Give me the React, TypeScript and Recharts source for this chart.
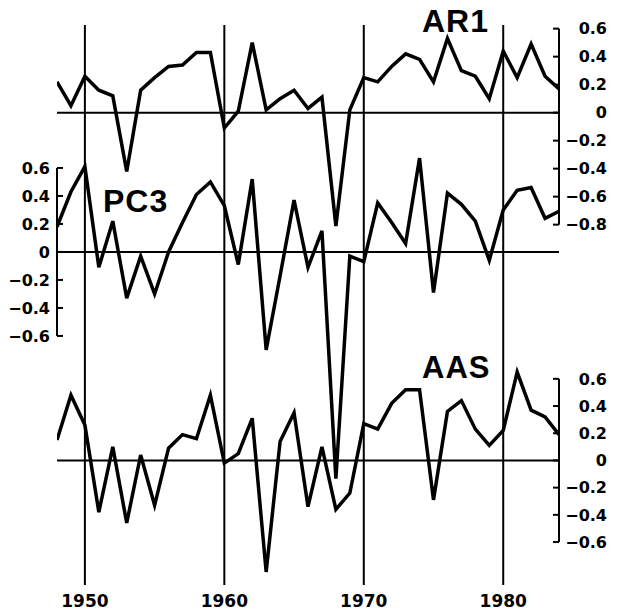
import React from 'react';
import { LineChart, Line, XAxis, YAxis, ReferenceLine } from 'recharts';

const years = [
  1948, 1949, 1950, 1951, 1952, 1953, 1954, 1955, 1956, 1957, 1958, 1959,
  1960, 1961, 1962, 1963, 1964, 1965, 1966, 1967, 1968, 1969, 1970, 1971,
  1972, 1973, 1974, 1975, 1976, 1977, 1978, 1979, 1980, 1981, 1982, 1983, 1984,
];

const ar1 = [
  0.22, 0.05, 0.26, 0.16, 0.12, -0.42, 0.16, 0.25, 0.33, 0.34, 0.43, 0.43,
  -0.11, 0.01, 0.5, 0.02, 0.1, 0.16, 0.03, 0.11, -0.81, 0.02, 0.25, 0.22,
  0.33, 0.42, 0.38, 0.22, 0.53, 0.3, 0.26, 0.1, 0.44, 0.25, 0.49, 0.26, 0.17,
];

const pc3 = [
  0.18, 0.43, 0.61, -0.11, 0.22, -0.33, -0.03, -0.3, 0.0, 0.21, 0.41, 0.5,
  0.33, -0.09, 0.52, -0.7, -0.17, 0.37, -0.11, 0.15, -1.62, -0.03, -0.07, 0.35,
  0.21, 0.06, 0.67, -0.29, 0.42, 0.34, 0.22, -0.06, 0.3, 0.44, 0.46, 0.24, 0.29,
];

const aas = [
  0.15, 0.48, 0.26, -0.38, 0.1, -0.46, 0.04, -0.33, 0.09, 0.19, 0.16, 0.48,
  -0.02, 0.05, 0.31, -0.82, 0.14, 0.35, -0.34, 0.1, -0.36, -0.24, 0.27, 0.23,
  0.42, 0.52, 0.52, -0.29, 0.36, 0.44, 0.23, 0.11, 0.22, 0.65, 0.37, 0.32, 0.19,
];

const yearTicks = [1950, 1960, 1970, 1980];
const ar1Ticks = [0.6, 0.4, 0.2, 0, -0.2, -0.4, -0.6, -0.8];
const pc3Ticks = [0.6, 0.4, 0.2, 0, -0.2, -0.4, -0.6];
const aasTicks = [0.6, 0.4, 0.2, 0, -0.2, -0.4, -0.6];

const data = years.map((year, i) => ({ year, ar1: ar1[i], pc3: pc3[i], aas: aas[i] }));

const NUM_FONT = '"DejaVu Sans", "Liberation Sans", sans-serif';
const TITLE_FONT = '"Liberation Sans", Arial, sans-serif';
const INK = '#000';

const fmt = (v: number) =>
  v === 0 ? '0' : (v < 0 ? '\u2212' : '') + Math.abs(v).toFixed(1);

function RightTick(props: any) {
  const { x, y, payload } = props;
  return (
    <g>
      <line x1={x - 6} x2={x} y1={y} y2={y} stroke={INK} strokeWidth={2} />
      <text
        x={x + 48}
        y={y}
        dy="0.36em"
        textAnchor="end"
        fontFamily={NUM_FONT}
        fontWeight="bold"
        fontSize={16}
        fill={INK}
      >
        {fmt(payload.value)}
      </text>
    </g>
  );
}

function LeftTick(props: any) {
  const { x, y, payload } = props;
  return (
    <g>
      <line x1={x} x2={x + 6} y1={y} y2={y} stroke={INK} strokeWidth={2} />
      <text
        x={x - 7}
        y={y}
        dy="0.36em"
        textAnchor="end"
        fontFamily={NUM_FONT}
        fontWeight="bold"
        fontSize={16}
        fill={INK}
      >
        {fmt(payload.value)}
      </text>
    </g>
  );
}

function YearTick(props: any) {
  const { x, y, payload } = props;
  return (
    <text
      x={x}
      y={y + 22}
      textAnchor="middle"
      fontFamily={NUM_FONT}
      fontWeight="bold"
      fontSize={17}
      fill={INK}
    >
      {payload.value}
    </text>
  );
}

export default function App() {
  return (
    <div style={{ position: 'absolute', left: 0, top: 0, width: 617, height: 610, background: '#fff' }}>
      <LineChart
        width={617}
        height={610}
        data={data}
        margin={{ top: 25, right: 58, bottom: 25, left: 57 }}
      >
        <XAxis
          dataKey="year"
          type="number"
          domain={[1948, 1984]}
          allowDataOverflow
          ticks={yearTicks}
          interval={0}
          axisLine={false}
          tickLine={false}
          tickSize={0}
          tickMargin={0}
          height={0.001}
          tick={YearTick}
        />
        <YAxis
          yAxisId="pc3"
          orientation="left"
          type="number"
          domain={[-2.379, 1.621]}
          allowDataOverflow
          ticks={pc3Ticks}
          interval={0}
          axisLine={false}
          tickLine={false}
          tickSize={0}
          tickMargin={0}
          width={0.001}
          tick={LeftTick}
        />
        <YAxis
          yAxisId="ar1"
          orientation="right"
          type="number"
          domain={[-3.374, 0.626]}
          allowDataOverflow
          ticks={ar1Ticks}
          interval={0}
          axisLine={false}
          tickLine={false}
          tickSize={0}
          tickMargin={0}
          width={0.001}
          tick={RightTick}
        />
        <YAxis
          yAxisId="aas"
          orientation="right"
          type="number"
          domain={[-0.916, 3.202]}
          allowDataOverflow
          ticks={aasTicks}
          interval={0}
          axisLine={false}
          tickLine={false}
          tickSize={0}
          tickMargin={0}
          width={0.001}
          tick={RightTick}
        />

        {yearTicks.map((yr) => (
          <ReferenceLine key={yr} x={yr} yAxisId="ar1" stroke={INK} strokeWidth={2} />
        ))}
        <ReferenceLine y={0} yAxisId="ar1" stroke={INK} strokeWidth={2} />
        <ReferenceLine y={0} yAxisId="pc3" stroke={INK} strokeWidth={2} />
        <ReferenceLine y={0} yAxisId="aas" stroke={INK} strokeWidth={2} />

        <ReferenceLine
          yAxisId="ar1"
          segment={[{ x: 1984, y: ar1Ticks[0] }, { x: 1984, y: ar1Ticks[ar1Ticks.length - 1] }]}
          stroke={INK}
          strokeWidth={2}
        />
        <ReferenceLine
          yAxisId="pc3"
          segment={[{ x: 1948, y: pc3Ticks[0] }, { x: 1948, y: pc3Ticks[pc3Ticks.length - 1] }]}
          stroke={INK}
          strokeWidth={2}
        />
        <ReferenceLine
          yAxisId="aas"
          segment={[{ x: 1984, y: aasTicks[0] }, { x: 1984, y: aasTicks[aasTicks.length - 1] }]}
          stroke={INK}
          strokeWidth={2}
        />

        <Line yAxisId="ar1" dataKey="ar1" stroke={INK} strokeWidth={3.5} dot={false} isAnimationActive={false} />
        <Line yAxisId="pc3" dataKey="pc3" stroke={INK} strokeWidth={3.5} dot={false} isAnimationActive={false} />
        <Line yAxisId="aas" dataKey="aas" stroke={INK} strokeWidth={3.5} dot={false} isAnimationActive={false} />
      </LineChart>
      <svg
        width={617}
        height={610}
        style={{ position: 'absolute', left: 0, top: 0, pointerEvents: 'none' }}
      >
        <text x={422} y={32} fontFamily={TITLE_FONT} fontWeight="bold" fontSize={32} letterSpacing={1} fill={INK}>
          AR1
        </text>
        <text x={103} y={212} fontFamily={TITLE_FONT} fontWeight="bold" fontSize={32} letterSpacing={1} fill={INK}>
          PC3
        </text>
        <text x={422} y={378} fontFamily={TITLE_FONT} fontWeight="bold" fontSize={31} letterSpacing={1} fill={INK}>
          AAS
        </text>
      </svg>
    </div>
  );
}
